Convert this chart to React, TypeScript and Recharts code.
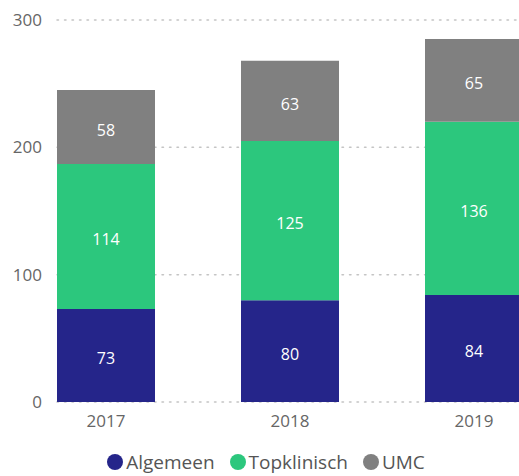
import { BarChart, Bar, XAxis, YAxis, CartesianGrid, Legend, LabelList } from 'recharts'

const years = ['2017', '2018', '2019']
const algemeen = [73, 80, 84]
const topklinisch = [114, 125, 136]
const umc = [58, 63, 65]
const yTicks = [0, 100, 200, 300]

const data = years.map((year, i) => ({
  year,
  Algemeen: algemeen[i],
  Topklinisch: topklinisch[i],
  UMC: umc[i],
}))

const font = '"Open Sans", "Noto Sans", sans-serif'

const GridLine = (props: any) => (
  <line
    x1={props.x1 + 43}
    x2={props.x2}
    y1={props.y1}
    y2={props.y2}
    stroke="#c4c4c4"
    strokeWidth={1.5}
    strokeDasharray="1.5 6"
    strokeLinecap="round"
  />
)

const YTick = (props: any) => (
  <text x={34} y={props.y} dy="0.35em" textAnchor="end" fill="#666" fontSize={17} fontFamily={font}>
    {props.payload.value}
  </text>
)

const renderLegend = (props: any) => (
  <div
    style={{
      display: 'flex',
      justifyContent: 'center',
      gap: 15,
      fontFamily: font,
      fontSize: 19,
      lineHeight: '20px',
      color: '#555',
    }}
  >
    {props.payload.map((entry: any) => (
      <span key={entry.value} style={{ display: 'flex', alignItems: 'center' }}>
        <span
          style={{ width: 16, height: 16, borderRadius: '50%', background: entry.color, display: 'inline-block', marginRight: 3 }}
        />
        {entry.value}
      </span>
    ))}
  </div>
)

export default function App() {
  return (
    <div
      style={{
        width: 519,
        height: 476,
        overflow: 'hidden',
        paddingLeft: 8,
        paddingTop: 8,
        boxSizing: 'border-box',
      }}
    >
      <style>{'body { margin: 0; }'}</style>
      <BarChart width={558} height={468} data={data} margin={{ top: 12, right: 0, bottom: 44, left: -34 }}>
        <CartesianGrid vertical={false} horizontal={GridLine} />
        <XAxis
          dataKey="year"
          axisLine={false}
          tickLine={false}
          tickSize={0}
          tickMargin={13}
          height={30}
          tick={{ fill: '#666', fontSize: 17, fontFamily: font }}
        />
        <YAxis width={40} domain={[0, 300]} ticks={yTicks} axisLine={false} tickLine={false} tick={YTick} />
        <Legend
          verticalAlign="middle"
          align="center"
          wrapperStyle={{ top: 444, left: 0, width: 516 }}
          content={renderLegend}
        />
        <Bar dataKey="Algemeen" stackId="a" fill="#25258a" barSize={98} isAnimationActive={false}>
          <LabelList dataKey="Algemeen" position="center" dy={3} fill="#fff" fontSize={16} fontFamily={font} />
        </Bar>
        <Bar dataKey="Topklinisch" stackId="a" fill="#2cc77d" barSize={98} isAnimationActive={false}>
          <LabelList dataKey="Topklinisch" position="center" dy={3} fill="#fff" fontSize={16} fontFamily={font} />
        </Bar>
        <Bar dataKey="UMC" stackId="a" fill="#808080" barSize={98} isAnimationActive={false}>
          <LabelList dataKey="UMC" position="center" dy={3} fill="#fff" fontSize={16} fontFamily={font} />
        </Bar>
      </BarChart>
    </div>
  )
}
